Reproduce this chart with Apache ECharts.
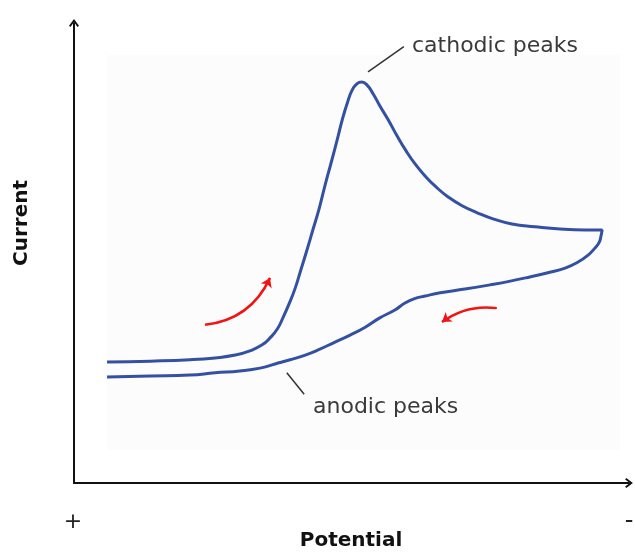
<!DOCTYPE html>
<html>
<head>
<meta charset="utf-8">
<script src="https://cdn.jsdelivr.net/npm/echarts@6/dist/echarts.min.js"></script>
<style>
html,body{margin:0;padding:0;background:#fff;}
#chart{width:635px;height:552px;}
</style>
</head>
<body>
<div id="chart"></div>
<script>
// Cyclic voltammogram loop (arbitrary units): forward scan then reverse scan
var cvPotential = [5.9, 13.6, 20.7, 25.2, 28.8, 31.4, 33.6, 35.0, 36.3, 37.3, 38.4, 39.5, 40.5, 41.6, 42.7, 43.8, 44.8, 45.9, 47.0, 47.9, 48.8, 49.6, 50.5, 51.4, 52.3, 53.4, 54.6, 56.1, 57.7, 59.3, 60.9, 62.7, 64.6, 66.8, 69.3, 72.0, 74.8, 78.2, 82.3, 86.8, 91.3, 94.3,
                   94.1, 93.8, 93.0, 91.8, 90.0, 87.7, 84.6, 81.4, 77.9, 74.3, 69.8, 65.4, 62.7, 60.7, 59.1, 57.3, 54.6, 52.0, 49.3, 46.6, 43.6, 41.3, 38.6, 35.9, 33.2, 29.6, 25.2, 20.7, 13.6, 5.9];
var cvCurrent   = [26.0, 26.2, 26.5, 26.9, 27.5, 28.4, 29.7, 31.2, 33.1, 35.5, 38.5, 41.9, 45.8, 50.1, 54.6, 59.1, 63.9, 68.8, 73.8, 78.1, 81.7, 84.3, 85.8, 86.2, 85.6, 83.7, 81.1, 78.1, 74.6, 71.4, 68.6, 66.0, 63.7, 61.5, 59.6, 58.1, 56.8, 55.7, 55.1, 54.6, 54.4, 54.4,
                   53.1, 51.8, 50.5, 49.0, 47.5, 46.2, 45.2, 44.3, 43.4, 42.6, 41.7, 40.9, 40.2, 39.6, 38.7, 37.2, 35.5, 33.5, 31.8, 30.3, 28.6, 27.5, 26.5, 25.6, 24.7, 24.1, 23.7, 23.2, 23.0, 22.8];
// Scan direction arrows (start / end points)
var arrowFrom = [[23.4, 34.0], [75.5, 37.6]];
var arrowTo   = [[35.0, 44.1], [65.7, 34.6]];
// Annotation leader lines
var leaderFrom = [[52.5, 88.4], [38.0, 23.7]];
var leaderTo   = [[58.9, 93.8], [41.1, 19.1]];
var annotationText = ['cathodic peaks', 'anodic peaks'];
var axisTitles = ['Potential', 'Current'];
var potentialEnds = ['+', '-'];

var chart = echarts.init(document.getElementById('chart'), null, {renderer: 'canvas'});
var chevron = 'path://M5,0 L10,6.6 L8.5,7.8 L5,3 L1.5,7.8 L0,6.6 Z';
var cvData = cvPotential.map(function (x, i) { return [x, cvCurrent[i]]; });
var arrowData = arrowFrom.map(function (p, i) { return { coords: [p, arrowTo[i]] }; });
var leaderData = leaderFrom.map(function (p, i) { return { coords: [p, leaderTo[i]] }; });
var font = 'DejaVu Sans';

chart.setOption({
  animation: false,
  backgroundColor: '#ffffff',
  grid: { left: 74, right: 6, top: 23, bottom: 69 },
  xAxis: {
    type: 'value', min: 0, max: 99.1,
    axisLine: { show: true, lineStyle: { color: '#111', width: 2 }, symbol: ['none', chevron], symbolSize: [10, 8] },
    axisTick: { show: false }, axisLabel: { show: false }, splitLine: { show: false }
  },
  yAxis: {
    type: 'value', min: 0, max: 98.9,
    axisLine: { show: true, lineStyle: { color: '#111', width: 2 }, symbol: ['none', chevron], symbolSize: [10, 8] },
    axisTick: { show: false }, axisLabel: { show: false }, splitLine: { show: false }
  },
  graphic: [
    { type: 'rect', z: -10, shape: { x: 107, y: 55, width: 513, height: 395 }, style: { fill: '#fcfcfd' }, silent: true },
    { type: 'text', x: 412, y: 46, style: { text: annotationText[0], font: '22px "' + font + '"', fill: '#3a3a3a', textAlign: 'left', verticalAlign: 'middle' } },
    { type: 'text', x: 313, y: 407, style: { text: annotationText[1], font: '22px "' + font + '"', fill: '#3a3a3a', textAlign: 'left', verticalAlign: 'middle' } },
    { type: 'text', x: 351, y: 541, style: { text: axisTitles[0], font: 'bold 20px "' + font + '"', fill: '#111', textAlign: 'center', verticalAlign: 'middle' } },
    { type: 'text', x: 22, y: 223, rotation: Math.PI / 2, style: { text: axisTitles[1], font: 'bold 20px "' + font + '"', fill: '#111', textAlign: 'center', verticalAlign: 'middle' } },
    { type: 'text', x: 73, y: 522, style: { text: potentialEnds[0], font: '22px "' + font + '"', fill: '#222', textAlign: 'center', verticalAlign: 'middle' } },
    { type: 'text', x: 629, y: 522, style: { text: potentialEnds[1], font: '24px "' + font + '"', fill: '#222', textAlign: 'center', verticalAlign: 'middle' } }
  ],
  series: [
    {
      type: 'line', data: cvData, smooth: 0.5, showSymbol: false, symbol: 'none',
      lineStyle: { color: '#3451a1', width: 3 }, z: 3
    },
    {
      type: 'lines', coordinateSystem: 'cartesian2d', data: [arrowData[0]],
      symbol: ['none', 'arrow'], symbolSize: 9,
      lineStyle: { color: '#f01414', width: 2.5, curveness: -0.28, opacity: 1 }, z: 4
    },
    {
      type: 'lines', coordinateSystem: 'cartesian2d', data: [arrowData[1]],
      symbol: ['none', 'arrow'], symbolSize: 9,
      lineStyle: { color: '#f01414', width: 2.5, curveness: -0.2, opacity: 1 }, z: 4
    },
    {
      type: 'lines', coordinateSystem: 'cartesian2d', data: leaderData,
      symbol: ['none', 'none'],
      lineStyle: { color: '#333', width: 1.5, curveness: 0, opacity: 1 }, z: 4
    }
  ]
});
</script>
</body>
</html>
